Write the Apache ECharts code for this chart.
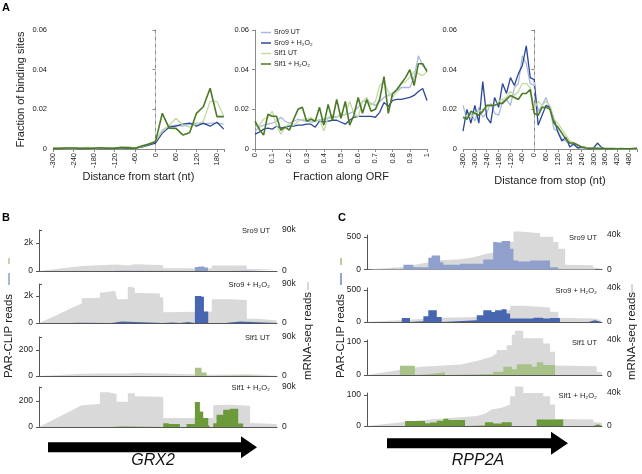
<!DOCTYPE html>
<html><head><meta charset="utf-8">
<script src="https://cdn.jsdelivr.net/npm/echarts@6/dist/echarts.min.js"></script>
<style>html,body{margin:0;padding:0;background:#fff}#c{width:642px;height:474px}</style>
</head><body><div id="c"></div>
<script>
// ---------------- DATA ----------------
const seriesNames = ['Sro9 UT', 'Sro9 + H\u2082O\u2082', 'Slf1 UT', 'Slf1 + H\u2082O\u2082'];

// Panel A, left: distance from start (nt)
const startPos = [-300,-280,-260,-240,-220,-200,-180,-160,-140,-120,-100,-80,-60,-40,-20,0,20,40,60,80,100,120,140,160,180,200];
const startSro9UT   = [0.0003,0.0003,0.0004,0.0003,0.0004,0.0006,0.0004,0.0003,0.0005,0.0004,0.0006,0.0008,0.0005,0.0015,0.002,0.004,0.0095,0.0115,0.012,0.0115,0.0125,0.013,0.0125,0.013,0.013,0.0125];
const startSro9H2O2 = [0.0002,0.0002,0.0003,0.0003,0.0002,0.0003,0.0003,0.0002,0.0003,0.0003,0.0005,0.0006,0.0005,0.001,0.002,0.003,0.008,0.011,0.0115,0.0125,0.013,0.0115,0.013,0.0115,0.0135,0.010];
const startSlf1UT   = [0.0003,0.0004,0.0005,0.0006,0.0003,0.0009,0.0004,0.0003,0.0005,0.0004,0.0006,0.0012,0.0004,0.0012,0.0025,0.004,0.009,0.012,0.0155,0.012,0.011,0.0125,0.014,0.024,0.024,0.0165];
const startSlf1H2O2 = [0.0003,0.0003,0.0005,0.0005,0.0003,0.0003,0.0004,0.0006,0.0003,0.0003,0.0008,0.0006,0.0003,0.0015,0.0025,0.0037,0.018,0.0105,0.0104,0.0071,0.0082,0.018,0.0213,0.0306,0.0163,0.0163];

// Panel A, middle: fraction along ORF
const orfPos = [0,0.025,0.05,0.075,0.1,0.125,0.15,0.175,0.2,0.225,0.25,0.275,0.3,0.325,0.35,0.375,0.4,0.425,0.45,0.475,0.5,0.525,0.55,0.575,0.6,0.625,0.65,0.675,0.7,0.725,0.75,0.775,0.8,0.825,0.85,0.875,0.9,0.925,0.95,0.975,1];
const orfSro9UT   = [0.009,0.011,0.012,0.0125,0.013,0.014,0.016,0.014,0.013,0.014,0.015,0.0145,0.014,0.0135,0.014,0.0145,0.015,0.0155,0.016,0.016,0.017,0.0175,0.018,0.019,0.021,0.024,0.024,0.023,0.022,0.024,0.026,0.027,0.028,0.029,0.031,0.031,0.031,0.036,0.047,0.042,0.040];
const orfSro9H2O2 = [0.0075,0.0085,0.010,0.0105,0.010,0.0115,0.0105,0.011,0.0115,0.0115,0.012,0.012,0.0125,0.0125,0.011,0.014,0.0135,0.014,0.0145,0.0145,0.0135,0.0125,0.0145,0.016,0.0165,0.0165,0.0165,0.0165,0.016,0.0185,0.0235,0.0215,0.0245,0.025,0.025,0.0255,0.026,0.027,0.029,0.0305,0.0245];
const orfSlf1UT   = [0.011,0.012,0.015,0.016,0.019,0.012,0.0075,0.011,0.013,0.012,0.014,0.015,0.015,0.016,0.014,0.015,0.009,0.016,0.017,0.016,0.018,0.017,0.024,0.018,0.016,0.024,0.026,0.022,0.024,0.032,0.034,0.029,0.026,0.029,0.033,0.034,0.036,0.039,0.038,0.037,0.039];
const orfSlf1H2O2 = [0.014,0.010,0.007,0.0175,0.0165,0.0165,0.0095,0.011,0.0095,0.015,0.020,0.021,0.014,0.015,0.014,0.021,0.012,0.0225,0.0145,0.025,0.0155,0.024,0.012,0.017,0.026,0.018,0.025,0.019,0.020,0.025,0.0365,0.018,0.028,0.030,0.033,0.036,0.040,0.032,0.043,0.043,0.039];

// Panel A, right: distance from stop (nt)
const stopPos = [-360,-340,-320,-300,-280,-260,-240,-220,-200,-180,-160,-140,-120,-100,-80,-60,-40,-20,0,20,40,60,80,100,120,140,160,180,200,220,240,260,280,300,320,340,360,380,400,420,440,460,480,500,520];
const stopSro9UT   = [0.022,0.015,0.018,0.014,0.021,0.016,0.018,0.023,0.018,0.017,0.024,0.025,0.022,0.031,0.033,0.047,0.043,0.033,0.032,0.019,0.022,0.026,0.020,0.010,0.009,0.005,0.004,0.003,0.002,0.001,0.0005,0.0005,0.0003,0.0003,0.0002,0.0002,0.0002,0.0001,0.0001,0.0001,0.0001,0.0001,0.0001,0.0001,0.0001];
const stopSro9H2O2 = [0.009,0.020,0.013,0.022,0.013,0.034,0.016,0.013,0.026,0.021,0.033,0.028,0.036,0.032,0.038,0.042,0.052,0.036,0.035,0.012,0.017,0.022,0.021,0.015,0.0085,0.004,0.006,0.001,0.0025,0.0005,0.001,0.0008,0,0.0005,0.003,0.0008,0,0.0002,0,0.0002,0,0.0002,0,0.0002,0.0003];
const stopSlf1UT   = [0.016,0.017,0.016,0.018,0.019,0.020,0.021,0.022,0.022,0.024,0.025,0.026,0.029,0.027,0.029,0.033,0.033,0.031,0.020,0.024,0.022,0.024,0.022,0.015,0.013,0.010,0.007,0.004,0.003,0.002,0.001,0.0008,0.0005,0.0004,0.0003,0.0003,0.0002,0.0002,0.0002,0.0001,0.0001,0.0001,0.0001,0.0001,0.0001];
const stopSlf1H2O2 = [0.016,0.015,0.019,0.018,0.017,0.019,0.022,0.022,0.022,0.023,0.023,0.025,0.027,0.026,0.025,0.028,0.028,0.030,0.018,0.017,0.021,0.021,0.020,0.013,0.011,0.008,0.005,0.003,0.003,0.002,0.001,0.0005,0.0004,0.0003,0.0003,0.0002,0.0002,0.0002,0.0002,0.0001,0.0002,0.0001,0.0001,0.0002,0.0003];

// Panels B / C : mRNA-seq coverage (position along gene 0-100, thousand reads)
const grxGraySro9UT   = [[0,0],[18,11],[18,14],[32.6,14],[32.6,12],[37.3,12],[37.3,15],[40.3,15],[40.3,13],[50.8,13],[52.2,12],[52.2,6],[72.6,6],[72.6,12],[87.3,12],[87.3,4.5],[99.5,4],[100,0]];
const grxGraySro9H2O2 = [[0,0],[5,12],[10,25],[15,38],[18,45],[18,57],[25.6,58],[25.6,70],[29,72],[29,74],[32,74],[32.6,60],[33,55],[37.3,55],[37.3,83],[39,83],[40.3,80],[40.3,70],[50.8,68],[50.8,60],[52.2,59],[52.2,25],[65.5,26],[72.6,26],[72.6,55],[80,55],[87.3,53],[87.3,10],[92,10],[92,7],[99.9,6],[100,0]];
const grxGraySlf1UT   = [[0,0],[18,5],[25.6,5.5],[32.6,6],[37.3,6],[37.3,7],[40.3,7],[40.3,6],[52.2,5.5],[52.2,3],[72.6,3],[72.6,4],[87.3,4],[87.3,2],[99.9,1.5],[100,0]];
const grxGraySlf1H2O2 = [[0,0],[18,49],[18,52],[25.6,52],[25.6,78],[29,78],[29,75],[32.6,75],[32.6,57],[37.3,57],[37.3,76],[40.3,76],[40.3,69],[50.8,68],[52.2,67],[52.2,20],[73.2,20],[73.2,49],[80,50],[88.7,48],[88.7,9],[99.9,7],[100,0]];

const rppGraySro9UT   = [[0,0],[15,3],[31,10.6],[39.6,11.8],[45,14],[50.9,18.4],[50.9,20],[54.5,20],[54.5,32],[62.3,32],[62.3,44],[65.1,44],[65.1,42],[73.6,42],[73.6,38],[79.3,38],[79.3,32],[81.4,32],[81.4,24],[84.3,24],[84.3,5.5],[96.3,5],[96.3,1.6],[99.9,1.5],[100,0]];
const rppGraySro9H2O2 = [[0,0],[32.5,5],[46.7,6],[49.5,7],[49.5,12],[55.2,12],[55.2,14],[60.9,14],[60.9,19],[66.5,19],[66.5,17],[77.9,17],[77.9,12],[81.4,12],[81.4,5],[97,4],[99.9,2],[100,0]];
const rppGraySlf1UT   = [[0,0],[22.6,9.5],[40,12],[46.7,16],[53,21],[55.2,25],[55.2,28.6],[59.4,28.6],[59.4,34],[61.6,34],[61.6,46],[63,46],[63,50.7],[66.5,50.7],[66.5,42],[75,42],[75,36],[77.9,36],[77.9,26.7],[80,26.7],[80,11],[97.7,10],[97.7,4],[99.9,3],[100,0]];
const rppGraySlf1H2O2 = [[0,0],[22.6,7],[46.7,12],[50.2,15],[53,20],[57.3,22],[60.9,26],[60.9,36],[63,36],[63,48],[66.5,48],[66.5,40],[75,40],[75,36],[77.9,36],[77.9,26],[80,26],[80,8.6],[96.3,8],[96.3,5],[99.9,4],[100,0]];

// PAR-CLIP read blocks: [start, end, reads]
const grxClipSro9UT   = [[31,33.5,20],[65.5,67,280],[67,69.5,320],[69.5,71,250],[80,86,15]];
const grxClipSro9H2O2 = [[12,18,15],[30.5,34.7,120],[52,56,30],[59.2,62.7,75],[65.5,68.3,2050],[68.3,69.3,1950],[69.3,71.1,860],[78.2,84.5,120]];
const grxClipSlf1UT   = [[65.5,68.3,64],[68.3,70.4,26],[74,86,4]];
const grxClipSlf1H2O2 = [[30.5,35,3],[52.2,54.5,28],[54.5,59.2,23],[62,65.5,23],[65.5,67.6,192],[67.6,69,120],[69,71.1,69],[71.1,71.8,18],[73.2,74.6,28],[74.6,77.4,95],[77.4,80.2,133],[80.2,83.7,141],[83.7,85.8,26]];

const rppClipSro9UT   = [[7.7,11.2,10],[15.5,19.7,72],[19.7,26.1,36],[26.1,27.5,180],[27.5,31.1,216],[31.1,32.5,113],[32.5,39.6,72],[39.6,49.5,88],[49.5,53.7,155],[53.7,55.2,423],[55.2,57.3,412],[57.3,60.9,438],[60.9,62.3,320],[62.3,64.4,139],[64.4,69.4,124],[69.4,77.9,139],[77.9,81.4,36],[94.9,97.7,10]];
const rppClipSro9H2O2 = [[14.8,18.3,63],[18.3,24,10],[24,26.1,90],[26.1,29.7,184],[29.7,31.8,79],[31.8,46.7,26],[46.7,49.5,105],[49.5,53,184],[53,54.5,158],[54.5,57.3,184],[57.3,59.4,200],[59.4,60.9,132],[60.9,70.8,53],[70.8,75,68],[75,77.9,53],[77.9,82.1,63],[94.2,97,26]];
const rppClipSlf1UT   = [[14,20.4,28],[20.4,26.1,2],[26.1,33.2,8],[33.2,53.7,3],[53.7,58,10],[58,61.6,25],[61.6,63.7,17],[63.7,70.1,32],[70.1,72.2,25],[72.2,75,38],[75,80,30]];
const rppClipSlf1H2O2 = [[16.2,24.7,16],[24.7,26.8,9],[26.8,29.7,11],[29.7,32.5,17],[32.5,34.6,23],[34.6,41.7,19],[41.7,50.2,2],[50.2,53.7,12],[53.7,57.3,8],[57.3,61.6,12],[72.2,83.5,21],[96.3,98.4,6]];

const grxLeftMax = [2000, 2000, 200, 200];
const rppLeftMax = [500, 500, 100, 100];
const grxRightMax = 90, rppRightMax = 40;

// ---------------- STYLE ----------------
const FONT = 'Liberation Sans';
const lineColors = ['#a9b9de', '#2b4797', '#c3dba0', '#4b7a26'];
const lineWidths = [1.3, 1.3, 1.3, 1.6];
const fillColors = ['#8ea0cb', '#4666b0', '#a8c289', '#6c9a3b'];
const grayFill = '#d9d9d9';
const axisGray = '#8a8a8a';
const axisDark = '#555';
const txt = '#222';

const grids = [], xAxes = [], yAxes = [], series = [];
function addGrid(g, xa, ya) {
  const i = grids.length;
  grids.push(Object.assign({ outerBoundsMode: 'none', containLabel: false }, g));
  xa.gridIndex = i; ya.gridIndex = i;
  xAxes.push(xa); yAxes.push(ya);
  return i;
}
const zip = (xs, ys) => xs.map((x, i) => [x, ys[i]]);

// ---- Panel A ----
const aCharts = [
  { left: 53, width: 170.8, x: startPos, ys: [startSro9UT, startSro9H2O2, startSlf1UT, startSlf1H2O2], min: -300, max: 200, interval: 60, lastLabel: 180, name: 'Distance from start (nt)', gap: 22, dashed: true, yName: 'Fraction of binding sites' },
  { left: 255, width: 172, x: orfPos, ys: [orfSro9UT, orfSro9H2O2, orfSlf1UT, orfSlf1H2O2], min: 0, max: 1, interval: 0.1, lastLabel: 1, name: 'Fraction along ORF', gap: 22, dashed: false },
  { left: 463, width: 174, x: stopPos, ys: [stopSro9UT, stopSro9H2O2, stopSlf1UT, stopSlf1H2O2], min: -360, max: 520, interval: 60, lastLabel: 480, name: 'Distance from stop (nt)', gap: 26, dashed: true }
];
aCharts.forEach((c) => {
  const gi = addGrid({ left: c.left, top: 30, width: c.width, height: 119 },
    { type: 'value', min: c.min, max: c.max, interval: c.interval,
      name: c.name, nameLocation: 'middle', nameGap: c.gap,
      nameTextStyle: { fontSize: 11, color: txt, fontFamily: FONT },
      axisLine: { lineStyle: { color: axisGray } },
      axisTick: { show: true, length: 3, lineStyle: { color: axisGray } },
      axisLabel: { rotate: 90, fontSize: 7.5, color: txt, margin: 4, fontFamily: FONT,
        formatter: v => (v > c.lastLabel + 1e-9) ? '' : String(+v.toFixed(2)) },
      splitLine: { show: false } },
    { type: 'value', min: 0, max: 0.06, interval: 0.02,
      name: c.yName || '', nameLocation: 'middle', nameGap: 27,
      nameTextStyle: { fontSize: 11, color: txt, fontFamily: FONT },
      axisLine: { show: true, lineStyle: { color: axisGray } },
      axisTick: { show: true, length: 3, lineStyle: { color: axisGray } },
      axisLabel: { fontSize: 7.5, color: txt, margin: 6, fontFamily: FONT,
        formatter: v => v === 0 ? '0' : String(+v.toFixed(2)) },
      splitLine: { show: false } });
  c.ys.forEach((ys, k) => {
    const s = {
      type: 'line', name: seriesNames[k], xAxisIndex: gi, yAxisIndex: gi,
      data: zip(c.x, ys), symbol: 'none', showSymbol: false,
      lineStyle: { color: lineColors[k], width: lineWidths[k] },
      itemStyle: { color: lineColors[k] }, z: 3 + k
    };
    if (k === 0 && c.dashed) {
      s.markLine = { silent: true, symbol: 'none', label: { show: false },
        lineStyle: { color: '#c4c4c4', type: [4, 3], width: 1 }, data: [{ xAxis: 0 }] };
    }
    series.push(s);
  });
});

// ---- Panels B & C ----
function segPoints(segs) {
  const pts = [[0, 0]];
  segs.forEach(([s, e, v]) => { pts.push([s, 0], [s, v], [e, v], [e, 0]); });
  pts.push([100, 0]);
  return pts;
}
const leftFmt = v => v >= 1000 ? (v / 1000) + 'k' : String(v);
const rightFmt = v => v === 0 ? '0' : v + 'k';

function addTrackRow(L, geneRow) {
  // gray mRNA-seq grid (right axis)
  const gR = addGrid({ left: L.left, top: L.rTop, width: L.width, height: L.bottom - L.rTop },
    { type: 'value', min: 0, max: 100, show: false },
    { type: 'value', position: 'right', min: 0, max: L.rMax, interval: L.rMax,
      axisLine: { show: true, lineStyle: { color: axisDark } },
      axisTick: { show: L.rTick, length: 3, lineStyle: { color: axisDark } },
      axisLabel: { fontSize: 8.5, color: txt, margin: L.rMargin, fontFamily: FONT, formatter: rightFmt },
      splitLine: { show: false } });
  series.push({ type: 'line', xAxisIndex: gR, yAxisIndex: gR, data: geneRow.gray, symbol: 'none',
    clip: false, lineStyle: { width: 0, color: grayFill }, areaStyle: { color: grayFill, opacity: 1 }, z: 1, silent: true });
  // PAR-CLIP grid (left axis)
  const gL = addGrid({ left: L.left, top: L.lTop, width: L.width, height: L.bottom - L.lTop },
    { type: 'value', min: 0, max: 100, axisLine: { show: true, lineStyle: { color: axisDark } },
      axisTick: { show: false }, axisLabel: { show: false }, splitLine: { show: false } },
    { type: 'value', min: 0, max: geneRow.lMax, interval: geneRow.lMax,
      axisLine: { show: true, lineStyle: { color: axisDark } },
      axisTick: { show: true, length: 3, lineStyle: { color: axisDark } },
      axisLabel: { fontSize: 8.5, color: txt, margin: 6, fontFamily: FONT, formatter: leftFmt },
      splitLine: { show: false } });
  series.push({ type: 'line', xAxisIndex: gL, yAxisIndex: gL, data: segPoints(geneRow.segs), symbol: 'none',
    lineStyle: { width: 0, color: fillColors[geneRow.k] }, areaStyle: { color: fillColors[geneRow.k], opacity: 1 }, z: 3, silent: true });
}

const grxGray = [grxGraySro9UT, grxGraySro9H2O2, grxGraySlf1UT, grxGraySlf1H2O2];
const grxClip = [grxClipSro9UT, grxClipSro9H2O2, grxClipSlf1UT, grxClipSlf1H2O2];
const rppGray = [rppGraySro9UT, rppGraySro9H2O2, rppGraySlf1UT, rppGraySlf1H2O2];
const rppClip = [rppClipSro9UT, rppClipSro9H2O2, rppClipSlf1UT, rppClipSlf1H2O2];

const bBottoms = [271, 323, 376, 427], bLTops = [243, 296, 350, 401], bRTops = [230, 284, 337, 387];
const cBottoms = [269.5, 322, 375, 426], cLTops = [237, 290, 341.7, 395], cRTops = [235, 288, 340, 393];

const graphics = [];
function label(text, x, y, opt) {
  graphics.push(Object.assign({ type: 'text', x: x, y: y, silent: true,
    style: Object.assign({ text: text, fill: txt, fontFamily: FONT, fontSize: 7.5, textAlign: 'right', textVerticalAlign: 'middle' }, opt || {}) }));
}
for (let k = 0; k < 4; k++) {
  addTrackRow({ left: 39, width: 238, bottom: bBottoms[k], lTop: bLTops[k], rTop: bRTops[k], rMax: grxRightMax, rTick: true, rMargin: 5 },
    { gray: grxGray[k], segs: grxClip[k], lMax: grxLeftMax[k], k: k });
  addTrackRow({ left: 367, width: 235, bottom: cBottoms[k], lTop: cLTops[k], rTop: cRTops[k], rMax: rppRightMax, rTick: false, rMargin: 5 },
    { gray: rppGray[k], segs: rppClip[k], lMax: rppLeftMax[k], k: k });
  label(seriesNames[k], 270, bRTops[k] + 1);
  label(seriesNames[k], 597, cRTops[k] + 3);
}

// panel letters
[['A', 2, 8], ['B', 2, 218], ['C', 338, 218]].forEach(([t, x, y]) =>
  label(t, x, y, { textAlign: 'left', fontSize: 11, fontWeight: 'bold', fill: '#000' }));

// rotated axis titles for B / C
function vtitle(text, x, y) {
  graphics.push({ type: 'text', x: x, y: y, rotation: Math.PI / 2, silent: true,
    style: { text: text, fill: txt, fontFamily: FONT, fontSize: 11.5, textAlign: 'center', textVerticalAlign: 'middle' } });
}
vtitle('PAR-CLIP reads', 9, 336);
vtitle('mRNA-seq reads', 308, 336);
vtitle('PAR-CLIP reads', 341, 336);
vtitle('mRNA-seq reads', 632, 336);
function dash(x, y1, y2, color) {
  graphics.push({ type: 'rect', silent: true, shape: { x: x - 0.75, y: y1, width: 1.5, height: y2 - y1 }, style: { fill: color } });
}
dash(9, 258, 264, '#b9c38f'); dash(9, 273, 285, '#8fa0cc');
dash(341, 258, 265, '#9fbf7e'); dash(341, 273, 285, '#6f86bf');
dash(308, 282, 290, '#c8c8c8'); dash(632, 284, 292, '#c8c8c8');

// gene arrows and names
function arrow(x0, x1, xt, yc, sh, hh) {
  graphics.push({ type: 'polygon', silent: true,
    shape: { points: [[x0, yc - sh], [x1, yc - sh], [x1, yc - hh], [xt, yc], [x1, yc + hh], [x1, yc + sh], [x0, yc + sh]] },
    style: { fill: '#000' } });
}
arrow(48, 241, 257, 447.3, 5, 11);
arrow(387, 551, 568, 443.3, 5, 11.5);
label('GRX2', 153, 461, { textAlign: 'center', fontSize: 16, fontStyle: 'italic', fill: '#111' });
label('RPP2A', 478, 461, { textAlign: 'center', fontSize: 16, fontStyle: 'italic', fill: '#111' });

const option = {
  animation: false,
  backgroundColor: '#fff',
  textStyle: { fontFamily: FONT },
  grid: grids, xAxis: xAxes, yAxis: yAxes, series: series,
  legend: { data: seriesNames, left: 261, top: 29, orient: 'vertical', padding: 0,
    itemWidth: 10, itemHeight: 7, itemGap: 3.5, icon: 'path://M0,3L10,3L10,4.5L0,4.5Z',
    textStyle: { fontSize: 7, color: txt, fontFamily: FONT, padding: [0, 0, 0, -2] } },
  graphic: graphics
};
const chart = echarts.init(document.getElementById('c'), null, { renderer: 'canvas' });
chart.setOption(option);
</script></body></html>
